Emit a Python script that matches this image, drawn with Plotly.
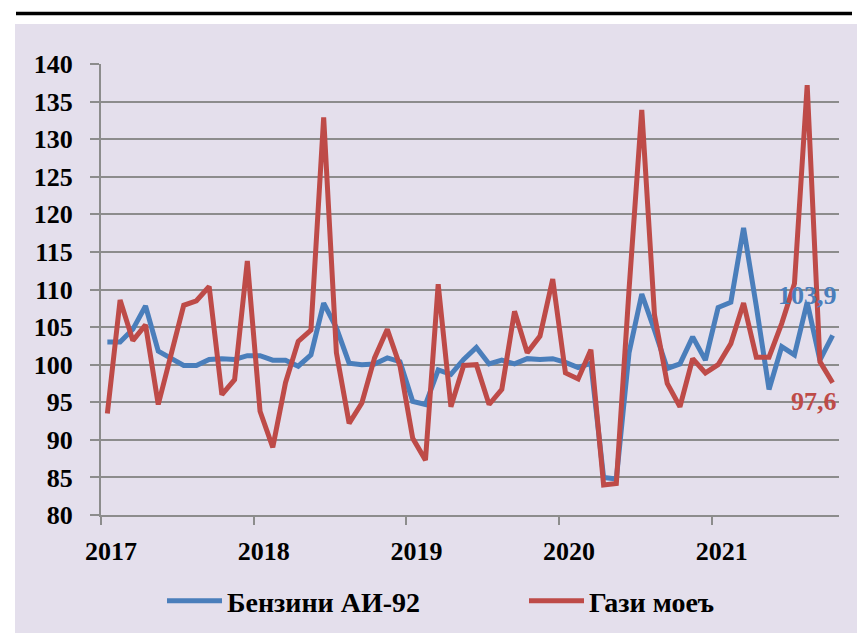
import plotly.graph_objects as go

# ---- data ----
years = ["2017", "2018", "2019", "2020", "2021"]
months = [f"{2017 + i // 12}-{i % 12 + 1:02d}" for i in range(58)]

benzin_ai92 = [103.0, 103.0, 104.7, 107.8, 101.8, 100.8, 99.9, 99.9, 100.7, 100.8, 100.7, 101.2,
               101.2, 100.6, 100.6, 99.8, 101.3, 108.2, 104.9, 100.2, 100.0, 100.1, 100.9, 100.4,
               95.1, 94.7, 99.3, 98.7, 100.7, 102.3, 100.1, 100.6, 100.1, 100.8, 100.7, 100.8,
               100.3, 99.6, 100.2, 85.0, 84.8, 101.6, 109.4, 104.6, 99.5, 100.1, 103.7, 100.6,
               107.6, 108.3, 118.2, 107.8, 96.7, 102.4, 101.3, 108.3, 100.6, 103.9]

gazi_moev = [93.5, 108.6, 103.2, 105.3, 94.7, 101.3, 107.9, 108.5, 110.4, 96.0, 98.0, 113.8,
             93.8, 89.0, 97.6, 103.1, 104.6, 132.9, 101.6, 92.2, 94.9, 100.9, 104.7, 99.8,
             90.2, 87.3, 110.7, 94.4, 99.9, 100.0, 94.7, 96.7, 107.1, 101.6, 103.8, 111.4,
             98.9, 98.1, 102.0, 84.0, 84.2, 110.0, 133.9, 106.6, 97.5, 94.4, 100.8, 98.9,
             100.0, 102.8, 108.2, 101.0, 101.0, 105.5, 110.8, 137.2, 100.4, 97.6]

series_names = ["Бензини АИ-92", "Гази моеъ"]

# ---- layout helpers ----
W, H = 857, 633
L, R, T, B = 101, 18, 64, 118
PW, PH = W - L - R, H - T - B

def px_x(px):
    return (px - L) / PW

def px_y(py):
    return (H - B - py) / PH

BLUE = "#4A7EBB"
RED = "#BE4B48"
GRID = "#8C8C8C"
FONT = "Liberation Serif"
TICKFONT = dict(family=FONT, size=26, color="black", weight="bold")
LEGFONT = dict(family=FONT, size=28, color="black", weight="bold")

x = list(range(len(months)))

fig = go.Figure()
fig.add_trace(go.Scatter(x=x, y=benzin_ai92, mode="lines", name=series_names[0],
                         line=dict(color=BLUE, width=5), customdata=months, legend="legend",
                         hovertemplate="%{customdata}: %{y}<extra></extra>"))
fig.add_trace(go.Scatter(x=x, y=gazi_moev, mode="lines", name=series_names[1],
                         line=dict(color=RED, width=5), customdata=months, legend="legend2",
                         hovertemplate="%{customdata}: %{y}<extra></extra>"))

def fmt(v):
    return f"{v:.1f}".replace(".", ",")

fig.add_annotation(x=x[-1], y=benzin_ai92[-1], text=fmt(benzin_ai92[-1]), showarrow=False,
                   xanchor="right", yanchor="middle", xshift=6, yshift=40,
                   font=dict(family=FONT, size=26, color=BLUE, weight="bold"))
fig.add_annotation(x=x[-1], y=gazi_moev[-1], text=fmt(gazi_moev[-1]), showarrow=False,
                   xanchor="right", yanchor="middle", xshift=6, yshift=-19,
                   font=dict(family=FONT, size=26, color=RED, weight="bold"))

# background panel and top rule
fig.add_shape(type="rect", xref="paper", yref="paper", layer="below",
              x0=px_x(15), x1=px_x(W + 2), y0=px_y(H + 2), y1=px_y(24),
              fillcolor="#E4DFEC", line=dict(width=0))
fig.add_shape(type="line", xref="paper", yref="paper",
              x0=px_x(16), x1=px_x(852), y0=px_y(13.5), y1=px_y(13.5),
              line=dict(color="black", width=3.5))

leg_common = dict(orientation="h", xanchor="left", yanchor="middle", font=LEGFONT,
                  bgcolor="rgba(0,0,0,0)", itemwidth=55)

fig.update_layout(
    width=W, height=H,
    margin=dict(l=L, r=R, t=T, b=B, autoexpand=False),
    paper_bgcolor="white", plot_bgcolor="white",
    font=dict(family=FONT, size=24, color="black"),
    showlegend=True,
    legend=dict(x=px_x(162), y=px_y(601), **leg_common),
    legend2=dict(x=px_x(524), y=px_y(601), **leg_common),
    hovermode="closest",
)

fig.update_xaxes(range=[-0.5, len(months) - 0.5], tickmode="array",
                 tickvals=[-0.5 + 12 * k for k in range(len(years))], ticktext=years,
                 ticks="outside", ticklen=8, tickwidth=2, tickcolor=GRID,
                 showline=True, linecolor=GRID, linewidth=2, showgrid=False, zeroline=False,
                 ticklabelshift=10, ticklabelstandoff=4, tickfont=TICKFONT)
fig.update_yaxes(range=[80, 140], dtick=5, tick0=80,
                 ticks="outside", ticklen=9, tickwidth=2, tickcolor=GRID,
                 showline=True, linecolor=GRID, linewidth=2,
                 showgrid=True, gridcolor=GRID, gridwidth=2, zeroline=False,
                 ticklabelstandoff=12, tickfont=TICKFONT)

fig.write_html("out.html", config={"displayModeBar": False},
               post_script="document.body.style.margin='0px';document.body.style.overflow='hidden';")
